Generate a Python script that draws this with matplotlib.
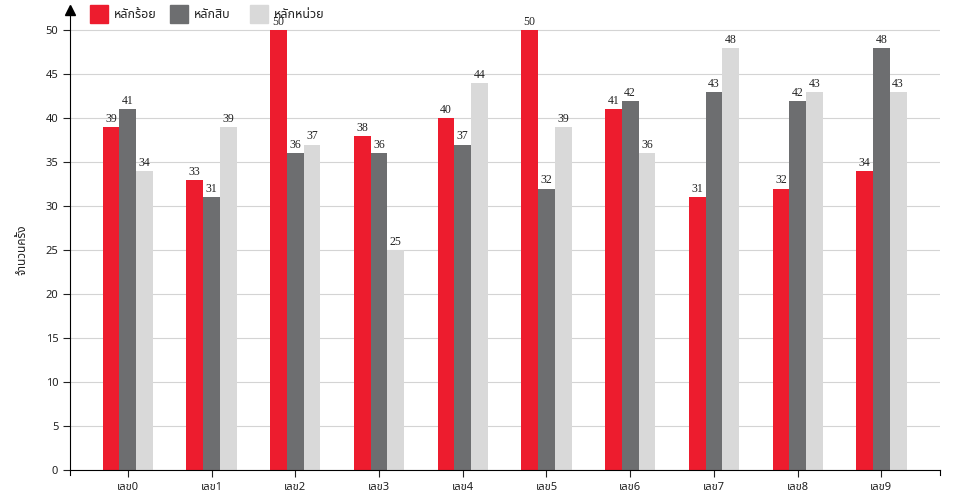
import matplotlib
matplotlib.use("Agg")
import matplotlib.pyplot as plt
from matplotlib import font_manager
from matplotlib.ft2font import FT2Font
from matplotlib.patches import Rectangle
import numpy as np

# ข้อมูล
categories = ["เลข0", "เลข1", "เลข2", "เลข3", "เลข4", "เลข5", "เลข6", "เลข7", "เลข8", "เลข9"]
series_names = ["หลักร้อย", "หลักสิบ", "หลักหน่วย"]
hundreds = [39, 33, 50, 38, 40, 50, 41, 31, 32, 34]
tens = [41, 31, 36, 36, 37, 32, 42, 43, 42, 48]
units = [34, 39, 37, 25, 44, 39, 36, 48, 43, 43]
colors = ["#ed1c2e", "#6d6e70", "#d9d9d9"]


def find_thai_family():
    # หาฟอนต์ที่มีตัวอักษรไทย
    preferred = []
    for f in font_manager.fontManager.ttflist:
        try:
            cmap = FT2Font(f.fname).get_charmap()
        except Exception:
            continue
        if 0x0E01 in cmap and 0x0E2A in cmap:
            preferred.append(f.name)
    for name in ["Noto Sans Thai", "Noto Sans Thai UI", "Loma", "Garuda", "Tlwg Typo", "Waree"]:
        if name in preferred:
            return name
    return preferred[0] if preferred else None


thai = find_thai_family()
families = ([thai] if thai else []) + ["DejaVu Sans"]
plt.rcParams["font.family"] = families

fig = plt.figure(figsize=(9.6, 5), dpi=100)
ax = fig.add_axes([70 / 960, 30 / 500, 870 / 960, 460 / 500])

x = np.arange(len(categories))
w = 0.2
for i, (vals, name) in enumerate(zip([hundreds, tens, units], series_names)):
    bars = ax.bar(x + (i - 1) * w, vals, width=w, color=colors[i], zorder=2)
    for b, v in zip(bars, vals):
        ax.annotate(str(v), (b.get_x() + b.get_width() / 2, v), xytext=(0, 1.5),
                    textcoords="offset points", ha="center", va="bottom",
                    fontsize=8.5, family="Liberation Serif", color="#222222", zorder=3)

ax.set_xlim(-0.69, 9.7)
ax.set_ylim(0, 52.3)
ax.set_yticks(np.arange(0, 51, 5))
ax.set_xticks(x)
ax.set_xticklabels(categories)
ax.grid(axis="y", color="#d4d4d4", linewidth=0.8, zorder=0)

for s in ["top", "right"]:
    ax.spines[s].set_visible(False)
ax.spines["left"].set_color("black")
ax.spines["bottom"].set_color("black")
ax.tick_params(axis="both", labelsize=8, colors="#222222", length=5, width=0.8)

# ลูกศรที่ปลายแกน y
ax.plot([0], [1.0], marker="^", color="black", markersize=7,
        transform=ax.transAxes, clip_on=False, zorder=5)
# ขีดปลายแกน x
ax.plot([0, 0], [0, -5 / 460], color="black", lw=0.8, transform=ax.transAxes, clip_on=False)
ax.plot([1, 1], [0, -5 / 460], color="black", lw=0.8, transform=ax.transAxes, clip_on=False)

fig.text(22 / 960, 250 / 500, "จำนวนครั้ง", rotation=90, ha="center", va="center",
         fontsize=8.5, color="#222222")

# คำอธิบาย
legend_x = [90, 170, 250]
for lx, c, name in zip(legend_x, colors, series_names):
    fig.patches.append(Rectangle((lx / 960, 1 - 23 / 500), 18 / 960, 18 / 500,
                                 transform=fig.transFigure, color=c, figure=fig))
    fig.text((lx + 24) / 960, 1 - 14 / 500, name, ha="left", va="center",
             fontsize=9, color="#222222")

fig.savefig("out.png", dpi=100)
